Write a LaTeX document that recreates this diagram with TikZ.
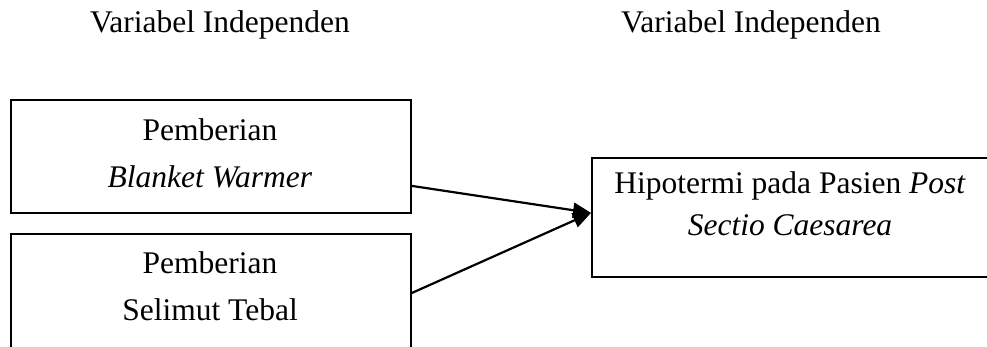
\documentclass[tikz,border=0pt]{standalone}
\usepackage{fontspec}
\setmainfont{Liberation Serif}
\usetikzlibrary{arrows.meta}
\begin{document}
\begin{tikzpicture}[x=1pt,y=-1pt,
  box/.style={draw,line width=1.8pt,inner sep=0pt,anchor=north west},
  label1/.style={font=\fontsize{31.5}{47}\selectfont,align=center,inner sep=0pt,anchor=base},
  label2/.style={font=\fontsize{31.5}{42}\selectfont,align=center,inner sep=0pt,anchor=base},
  link/.style={line width=2.2pt,-{Triangle[length=18pt,width=15pt]}}]
\useasboundingbox (0,0) rectangle (987,346);
\clip (0,0) rectangle (987,346);
% column headings
\node[label1] (h1) at (220,32) {Variabel Independen};
\node[label1] (h2) at (751,32) {Variabel Independen};
% input boxes
\node[box,minimum width=400pt,minimum height=113pt] (b1) at (10,99) {};
\node[box,minimum width=400pt,minimum height=130pt] (b2) at (10,233) {};
% outcome box
\node[box,minimum width=420pt,minimum height=119pt] (b3) at (591,157) {};
% box texts (anchored at the baseline of the last line)
\node[label1] (t1) at (210,187) {Pemberian\\\textit{Blanket Warmer}};
\node[label1] (t2) at (210,320) {Pemberian\\Selimut Tebal};
\node[label2] (t3) at (790,235) {Hipotermi pada Pasien \textit{Post}\\\textit{Sectio Caesarea}};
% connectors
\coordinate (tip) at ([yshift=4.5pt]b3.west);
\draw[link] ([yshift=-29.5pt]b1.east) -- (tip);
\draw[link] ([yshift=-60pt]b2.north east) -- (tip);
\end{tikzpicture}
\end{document}
